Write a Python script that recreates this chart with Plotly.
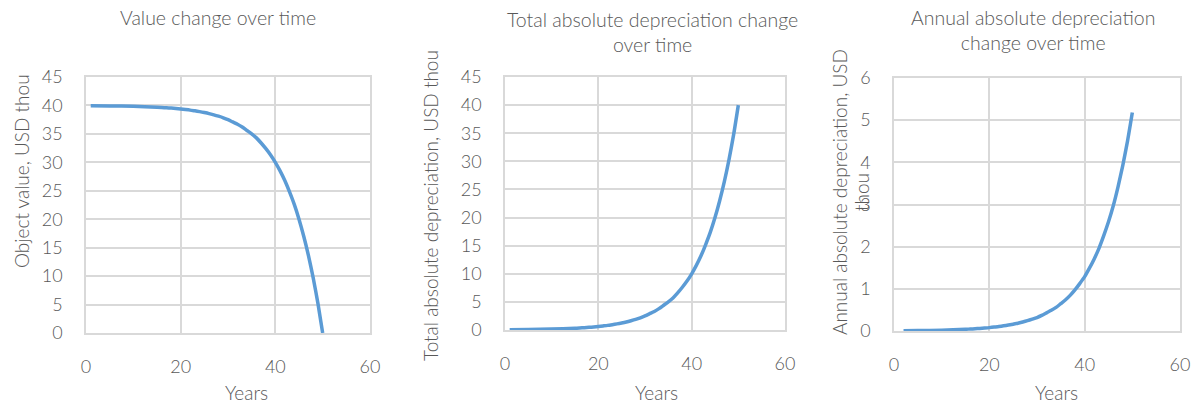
import plotly.graph_objects as go

W, H = 1197, 405

# Years at which the curves are sampled
years = [1, 5, 10, 15, 16, 17, 18, 19, 20, 21, 22, 23, 24, 25, 26, 27, 28, 29,
         30, 31, 32, 33, 34, 35, 36, 37, 38, 39, 40, 41, 42, 43, 44, 45, 46,
         47, 48, 49, 50]

# Object value, USD thou
object_value = [39.95, 39.92, 39.84, 39.69, 39.64, 39.59, 39.53, 39.46, 39.38,
                39.28, 39.18, 39.05, 38.91, 38.75, 38.57, 38.35, 38.11, 37.83,
                37.5, 37.1, 36.7, 36.2, 35.6, 35.0, 34.3, 33.4, 32.4, 31.3,
                30.0, 28.5, 26.8, 24.8, 22.6, 20.0, 17.0, 13.6, 9.7, 5.2, 0.0]

# Total absolute depreciation, USD thou
total_depr = [0.05, 0.08, 0.16, 0.31, 0.36, 0.41, 0.47, 0.54, 0.62, 0.72, 0.82,
              0.95, 1.09, 1.25, 1.43, 1.65, 1.89, 2.17, 2.5, 2.9, 3.3, 3.8,
              4.4, 5.0, 5.7, 6.6, 7.6, 8.7, 10.0, 11.5, 13.2, 15.2, 17.4,
              20.0, 23.0, 26.4, 30.3, 34.8, 40.0]

# Annual absolute depreciation, USD thou (first year has no annual change)
annual_years = [2, 5, 10, 15, 16, 17, 18, 19, 20, 21, 22, 23, 24, 25, 26, 27,
                28, 29, 30, 31, 32, 33, 34, 35, 36, 37, 38, 39, 40, 41, 42, 43,
                44, 45, 46, 47, 48, 49, 50]
annual_depr = [0.007, 0.01, 0.02, 0.04, 0.047, 0.053, 0.061, 0.07, 0.08, 0.093,
               0.106, 0.123, 0.141, 0.162, 0.185, 0.214, 0.245, 0.281, 0.32,
               0.37, 0.43, 0.49, 0.56, 0.65, 0.74, 0.85, 0.98, 1.13, 1.29,
               1.49, 1.71, 1.96, 2.26, 2.59, 2.97, 3.42, 3.93, 4.51, 5.18]

titles = ["Value change over time",
          "Total absolute depreciation change<br>over time",
          "Annual absolute depreciation<br>change over time"]
x_title = "Years"

FONT = "Lato"
TXT = "#595959"
GRID = "#D9D9D9"
BLUE = "#5B9BD5"
TITLE_FONT = dict(family=FONT, size=19.5, color=TXT, weight=300)
AXIS_TITLE_FONT = dict(family=FONT, size=19, color=TXT, weight=300)


def px_x(x):
    return x / W


def px_y(y):
    return 1 - y / H


# plot-area boxes in pixels: (left, right, top, bottom)
boxes = [(86, 370, 77, 333), (505, 785, 77, 330), (894, 1180, 78, 331)]
y_ranges = [[0, 45], [0, 45], [0, 6]]
y_dticks = [5, 5, 1]

fig = go.Figure()
series = [(years, object_value), (years, total_depr), (annual_years, annual_depr)]
for i, (xs, ys) in enumerate(series):
    sfx = "" if i == 0 else str(i + 1)
    fig.add_trace(go.Scatter(x=xs, y=ys, mode="lines",
                             line=dict(color=BLUE, width=3.5, shape="spline",
                                       smoothing=0.6),
                             xaxis="x" + sfx, yaxis="y" + sfx,
                             showlegend=False, hoverinfo="skip"))
    l, r, t, b = boxes[i]
    axis_common = dict(showgrid=True, gridcolor=GRID, gridwidth=1.5,
                       showline=True, linecolor=GRID, linewidth=1.5, mirror=True,
                       zeroline=False, ticks="", automargin=False,
                       tickfont=dict(family=FONT, size=18, color=TXT, weight=300))
    fig.update_layout(**{
        "xaxis" + sfx: dict(domain=[px_x(l), px_x(r)], range=[0, 60], dtick=20,
                            anchor="y" + sfx, ticklabelstandoff=17, **axis_common),
        "yaxis" + sfx: dict(domain=[px_y(b), px_y(t)], range=y_ranges[i],
                            dtick=y_dticks[i], anchor="x" + sfx,
                            ticklabelstandoff=18, **axis_common),
    })

ann = []
title_pos = [(218, 18), (652, 32), (1033, 30)]
for (cx, cy), txt in zip(title_pos, titles):
    ann.append(dict(x=px_x(cx), y=px_y(cy), xref="paper", yref="paper",
                    text=txt, showarrow=False, xanchor="center", yanchor="middle",
                    font=TITLE_FONT))

for cx in (246, 656, 1056):
    ann.append(dict(x=px_x(cx), y=px_y(392), xref="paper", yref="paper",
                    text=x_title, showarrow=False, xanchor="center", yanchor="middle",
                    font=AXIS_TITLE_FONT))

y_titles = [("Object value, USD thou", 21, 171),
            ("Total absolute depreciation, USD thou", 430, 206),
            ("Annual absolute depreciation, USD", 839, 192),
            ("thou", 861, 192)]
for txt, cx, cy in y_titles:
    ann.append(dict(x=px_x(cx), y=px_y(cy), xref="paper", yref="paper",
                    text=txt, showarrow=False, textangle=-90,
                    xanchor="center", yanchor="middle", font=AXIS_TITLE_FONT))

fig.update_layout(width=W, height=H, margin=dict(l=0, r=0, t=0, b=0),
                  paper_bgcolor="white", plot_bgcolor="white",
                  annotations=ann)

fig.write_html("out.html")
